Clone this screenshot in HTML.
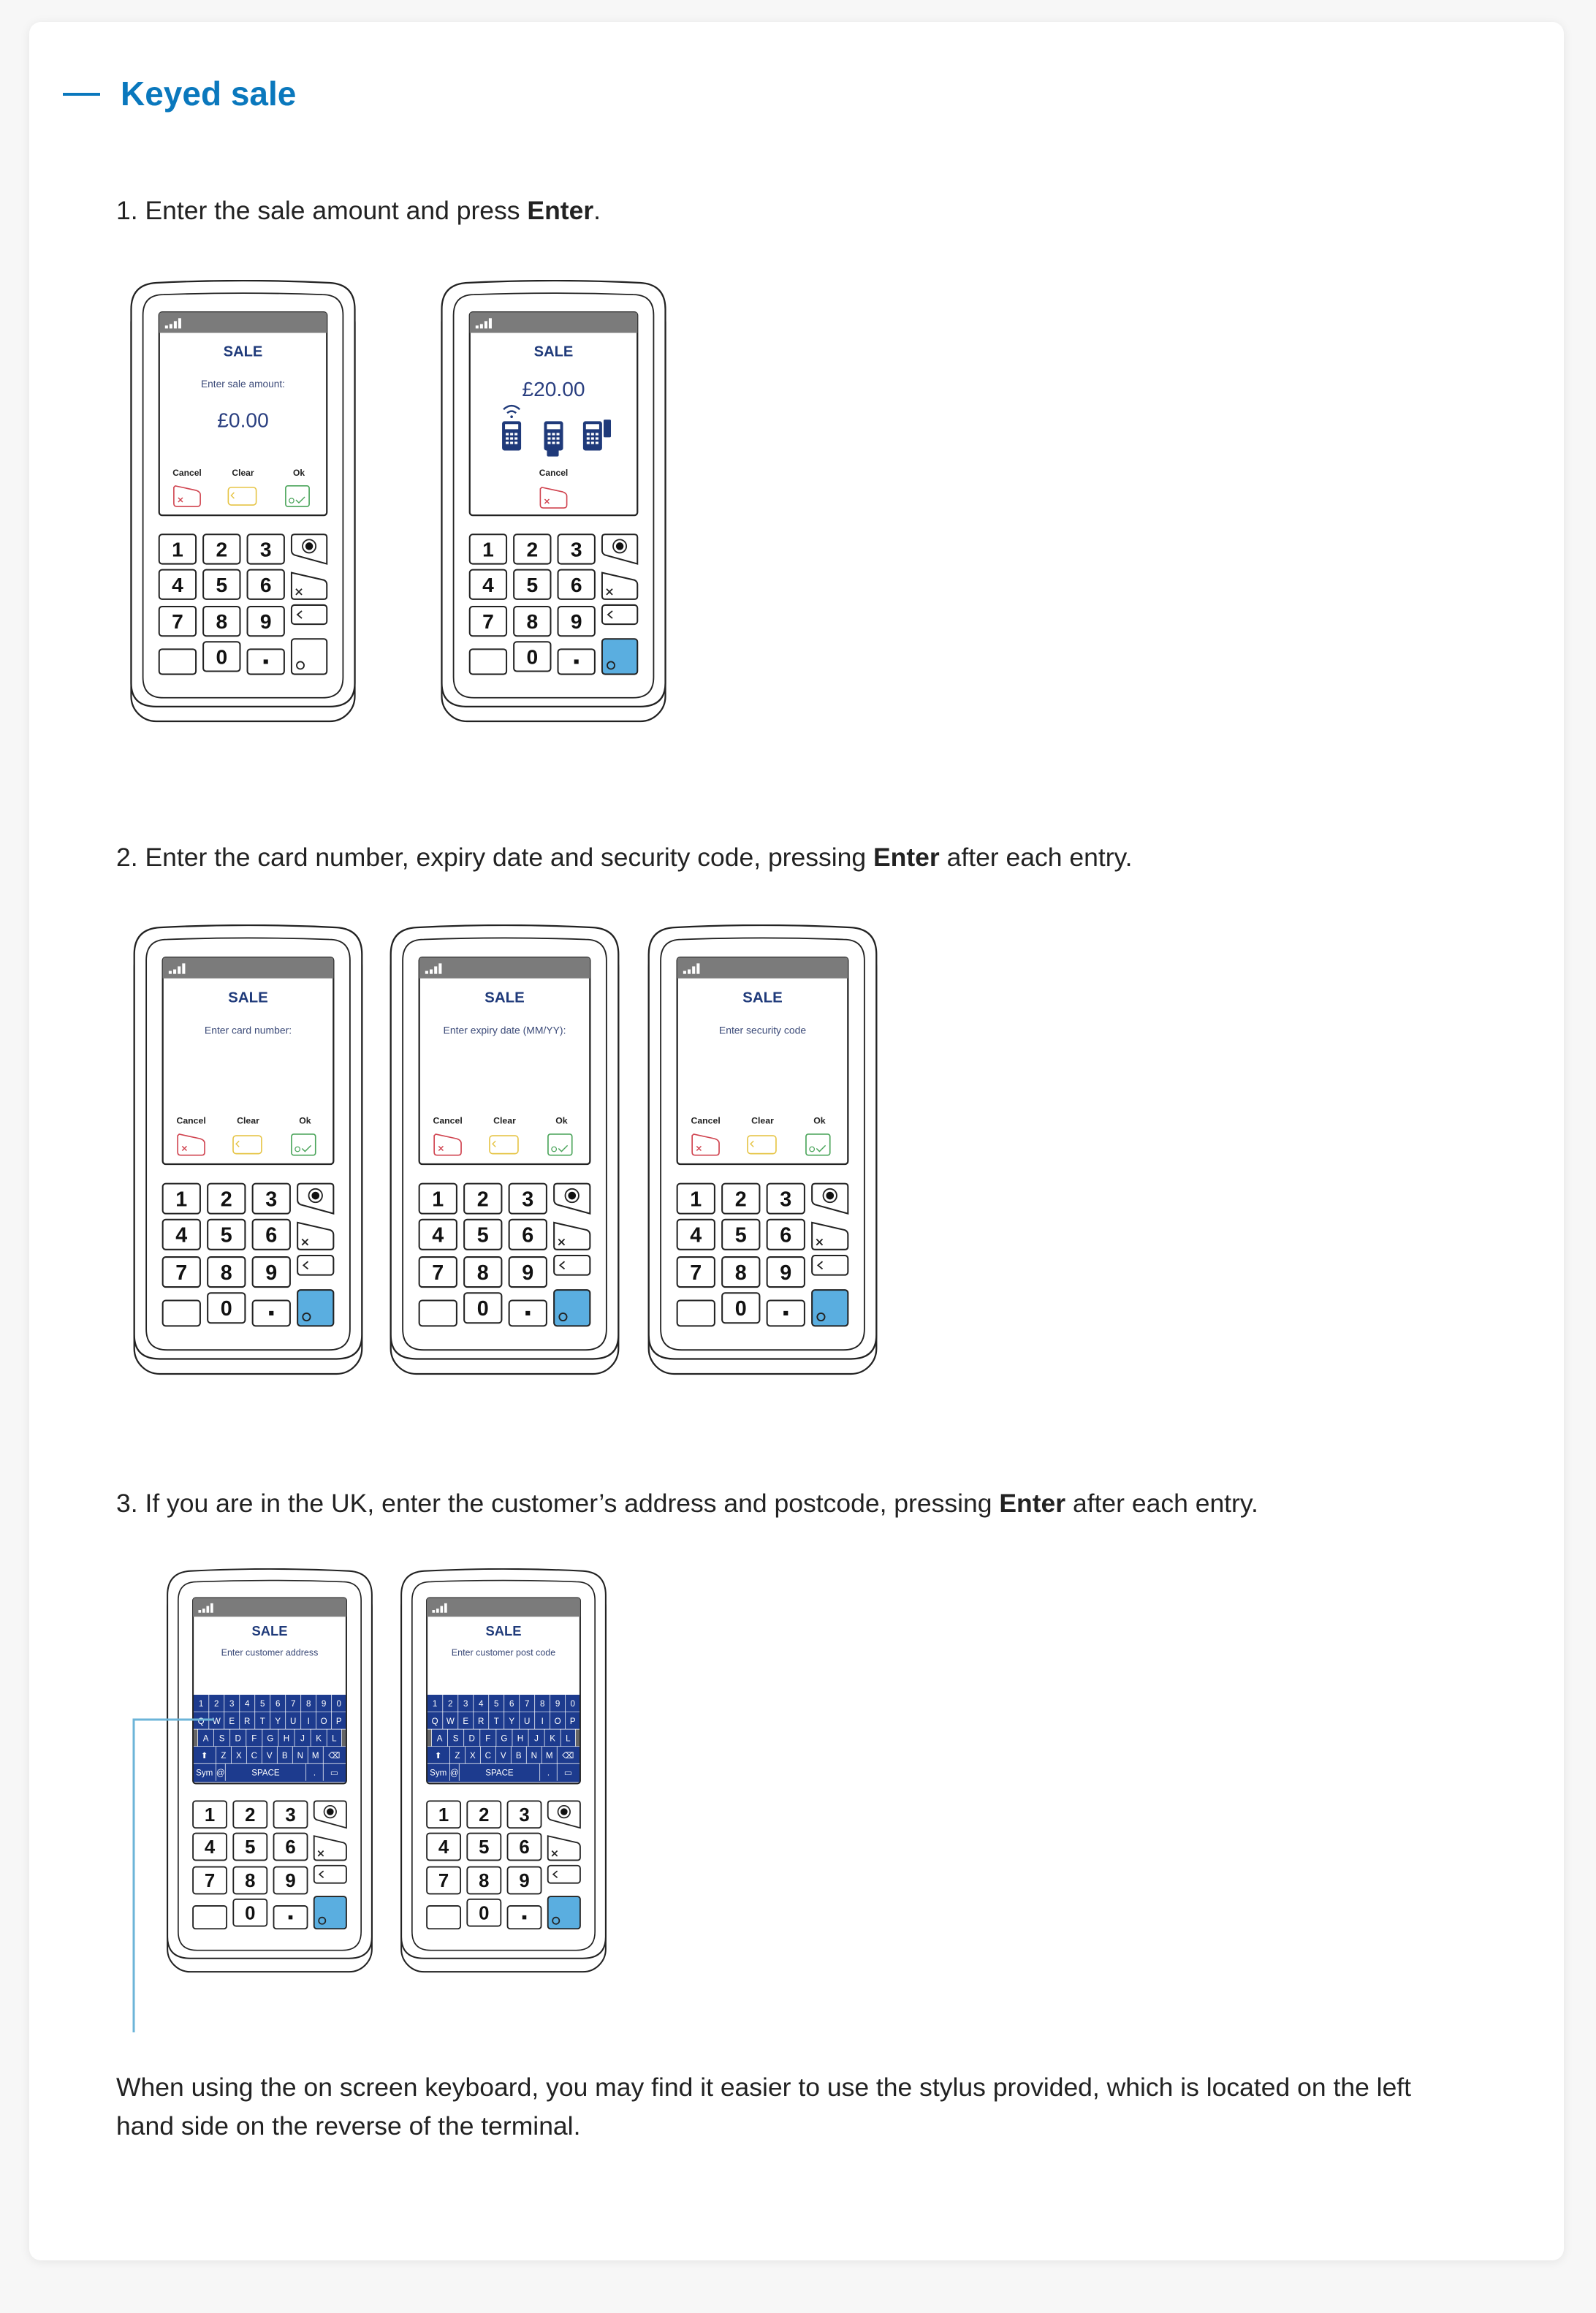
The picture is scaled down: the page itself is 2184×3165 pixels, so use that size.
<!DOCTYPE html>
<html><head><meta charset="utf-8">
<style>
html,body{margin:0;padding:0;}
body{width:2184px;height:3165px;background:#f7f7f7;position:relative;font-family:"Liberation Sans",sans-serif;color:#222;overflow:hidden;}
.card{position:absolute;left:40px;top:30px;width:2100px;height:3063px;background:#fff;border-radius:16px;box-shadow:0 2px 14px rgba(0,0,0,0.08);}
.dash{position:absolute;left:86px;top:127px;width:51px;height:4px;background:#0a78bd;}
h1{position:absolute;left:165px;top:98px;margin:0;font-size:46px;font-weight:bold;color:#0a78bd;line-height:60px;}
.step{position:absolute;left:159px;font-size:35.5px;line-height:44px;margin:0;white-space:nowrap;}
.para{position:absolute;left:159px;top:2830px;width:1800px;font-size:35.5px;line-height:53px;margin:0;}
svg.t{position:absolute;}
.k{font:bold 14px "Liberation Sans",sans-serif;text-anchor:middle;fill:#111;}
.sale{font:bold 10px "Liberation Sans",sans-serif;text-anchor:middle;fill:#1f3a7a;}
.pr{font:6.8px "Liberation Sans",sans-serif;text-anchor:middle;fill:#3b4a78;}
.amt{font:14px "Liberation Sans",sans-serif;text-anchor:middle;fill:#2a3f80;}
.lb{font:bold 6px "Liberation Sans",sans-serif;text-anchor:middle;fill:#222;}
.kb{font:6.3px "Liberation Sans",sans-serif;text-anchor:middle;fill:#fff;}
</style></head><body>
<svg width="0" height="0" style="position:absolute">
<defs>
<symbol id="shell" viewBox="0 0 154 301">
 <rect x="1" y="12" width="152" height="288" rx="17" fill="#fff" stroke="#222" stroke-width="1.1"/>
 <path d="M1,20 Q1,3 18,2 Q77,-1 136,2 Q153,3 153,20 V274 Q153,290 136,290 H18 Q1,290 1,274 Z" fill="#fff" stroke="#222" stroke-width="1.1"/>
 <path d="M9,24 Q9,10 23,10 Q77,8 131,10 Q145,10 145,24 V270 Q145,284 131,284 H23 Q9,284 9,270 Z" fill="none" stroke="#222" stroke-width="0.9"/>
 <g fill="#fff" stroke="#222" stroke-width="1">
  <rect x="20" y="173" width="25" height="20" rx="2"/><rect x="50" y="173" width="25" height="20" rx="2"/><rect x="80" y="173" width="25" height="20" rx="2"/>
  <rect x="20" y="197" width="25" height="20" rx="2"/><rect x="50" y="197" width="25" height="20" rx="2"/><rect x="80" y="197" width="25" height="20" rx="2"/>
  <rect x="20" y="222" width="25" height="20" rx="2"/><rect x="50" y="222" width="25" height="20" rx="2"/><rect x="80" y="222" width="25" height="20" rx="2"/>
  <rect x="20" y="251" width="25" height="17" rx="2"/><rect x="50" y="246" width="25" height="20" rx="2"/><rect x="80" y="251" width="25" height="17" rx="2"/>
  <path d="M112,173 H132 Q134,173 134,175 V193 L112,187 Q110,186 110,184 V175 Q110,173 112,173 Z"/>
  <path d="M110,199 L132,204 Q134,205 134,207 V215 Q134,217 132,217 H112 Q110,217 110,215 Z"/>
  <rect x="110" y="221" width="24" height="13" rx="2"/>
 </g>
 <circle cx="122" cy="181" r="4.5" fill="none" stroke="#222" stroke-width="0.9"/>
 <circle cx="122" cy="181" r="2.6" fill="#111"/>
 <path d="M113,210 l4,4 M117,210 l-4,4" stroke="#222" stroke-width="0.9"/>
 <path d="M117,225 l-3,2.5 l3,2.5" fill="none" stroke="#222" stroke-width="0.9"/>
 <rect x="91" y="258" width="3" height="3" fill="#111"/>
</symbol>
<symbol id="enterw" viewBox="0 0 154 301"><rect x="110" y="244" width="24" height="24" rx="2" fill="#fff" stroke="#222"/><circle cx="116" cy="262" r="2.5" fill="none" stroke="#222" stroke-width="0.9"/></symbol>
<symbol id="enterb" viewBox="0 0 154 301"><rect x="110" y="244" width="24" height="24" rx="2" fill="#5aaee0" stroke="#222"/><circle cx="116" cy="262" r="2.5" fill="none" stroke="#222" stroke-width="0.9"/></symbol>
<symbol id="scr" viewBox="0 0 154 301">
 <rect x="20" y="22" width="114" height="138" rx="2" fill="#fff" stroke="#222" stroke-width="1.1"/>
 <path d="M20,24 Q20,22 22,22 H132 Q134,22 134,24 V36 H20 Z" fill="#7b7b7b"/>
 <g fill="#fff"><rect x="24" y="31" width="2" height="2"/><rect x="27" y="30" width="2" height="3"/><rect x="30" y="28" width="2" height="5"/><rect x="33" y="26" width="2" height="7"/></g>
</symbol>
<symbol id="btn3" viewBox="0 0 154 301">
 <path d="M31,140 L45,143 Q48,144 48,146 V152 Q48,154 46,154 H32 Q30,154 30,152 V141 Z" fill="none" stroke="#d0434f" stroke-width="0.8"/>
 <path d="M33,148 l3,3 M36,148 l-3,3" stroke="#d0434f" stroke-width="0.7"/>
 <rect x="67" y="141" width="19" height="12" rx="2" fill="none" stroke="#e6c445" stroke-width="0.8"/>
 <path d="M71,144.5 l-2,2 l2,2" fill="none" stroke="#e6c445" stroke-width="0.7"/>
 <rect x="106" y="140" width="16" height="14" rx="1.5" fill="none" stroke="#4aa45a" stroke-width="0.8"/>
 <circle cx="110" cy="150" r="1.6" fill="none" stroke="#4aa45a" stroke-width="0.6"/>
 <path d="M113,149.5 l2,2 l4,-4" fill="none" stroke="#4aa45a" stroke-width="0.7"/>
</symbol>
<symbol id="mini" viewBox="0 0 13 20">
 <rect x="0" y="0" width="13" height="20" rx="1.8" fill="#1f3a7a"/>
 <rect x="2" y="2" width="9" height="3.5" fill="#fff"/>
 <g fill="#fff"><rect x="2.5" y="8" width="2" height="1.6"/><rect x="5.5" y="8" width="2" height="1.6"/><rect x="8.5" y="8" width="2" height="1.6"/>
 <rect x="2.5" y="11" width="2" height="1.6"/><rect x="5.5" y="11" width="2" height="1.6"/><rect x="8.5" y="11" width="2" height="1.6"/>
 <rect x="2.5" y="14" width="2" height="1.6"/><rect x="5.5" y="14" width="2" height="1.6"/><rect x="8.5" y="14" width="2" height="1.6"/></g>
</symbol>
</defs></svg>

<div class="card"></div>
<div class="dash"></div>
<h1>Keyed sale</h1>

<p class="step" style="top:266px">1. Enter the sale amount and press <b>Enter</b>.</p>

<svg class="t" style="left:177px;top:383px" width="311" height="606" viewBox="0 0 154 301">
<use href="#shell" width="154" height="301"/><use href="#enterw" width="154" height="301"/><use href="#scr" width="154" height="301"/><use href="#btn3" width="154" height="301"/>
<text class="sale" x="77" y="52">SALE</text>
<text class="pr" x="77" y="73">Enter sale amount:</text>
<text class="amt" x="77" y="100">£0.00</text>
<text class="lb" x="39" y="133">Cancel</text><text class="lb" x="77" y="133">Clear</text><text class="lb" x="115" y="133">Ok</text>
<text class="k" x="32.5" y="188">1</text><text class="k" x="62.5" y="188">2</text><text class="k" x="92.5" y="188">3</text>
<text class="k" x="32.5" y="212">4</text><text class="k" x="62.5" y="212">5</text><text class="k" x="92.5" y="212">6</text>
<text class="k" x="32.5" y="237">7</text><text class="k" x="62.5" y="237">8</text><text class="k" x="92.5" y="237">9</text>
<text class="k" x="62.5" y="261">0</text>
</svg>

<svg class="t" style="left:602px;top:383px" width="311" height="606" viewBox="0 0 154 301">
<use href="#shell" width="154" height="301"/><use href="#enterb" width="154" height="301"/><use href="#scr" width="154" height="301"/>
<text class="sale" x="77" y="52">SALE</text>
<text class="amt" x="77" y="79">£20.00</text>
<path d="M43,88 Q48.5,83 54,88" fill="none" stroke="#1f3a7a" stroke-width="1.2"/><path d="M45.5,90.5 Q48.5,88 51.5,90.5" fill="none" stroke="#1f3a7a" stroke-width="1.2"/><circle cx="48.5" cy="93" r="0.9" fill="#1f3a7a"/>
<use href="#mini" x="42" y="96" width="13" height="20"/>
<use href="#mini" x="70.5" y="96" width="13" height="20"/><rect x="72.5" y="115" width="8" height="5" rx="1" fill="#1f3a7a"/>
<use href="#mini" x="97" y="96" width="13" height="20"/><rect x="111" y="95" width="5" height="12" rx="0.8" fill="#1f3a7a"/>
<text class="lb" x="77" y="133">Cancel</text>
<path d="M69,141 L83,144 Q86,145 86,147 V153 Q86,155 84,155 H70 Q68,155 68,153 V142 Z" fill="none" stroke="#d0434f" stroke-width="0.8"/>
<path d="M71,149 l3,3 M74,149 l-3,3" stroke="#d0434f" stroke-width="0.7"/>
<text class="k" x="32.5" y="188">1</text><text class="k" x="62.5" y="188">2</text><text class="k" x="92.5" y="188">3</text>
<text class="k" x="32.5" y="212">4</text><text class="k" x="62.5" y="212">5</text><text class="k" x="92.5" y="212">6</text>
<text class="k" x="32.5" y="237">7</text><text class="k" x="62.5" y="237">8</text><text class="k" x="92.5" y="237">9</text>
<text class="k" x="62.5" y="261">0</text>
</svg>

<p class="step" style="top:1151px">2. Enter the card number, expiry date and security code, pressing <b>Enter</b> after each entry.</p>

<svg class="t" style="left:181px;top:1265px" width="317" height="617" viewBox="0 0 154 301">
<use href="#shell" width="154" height="301"/><use href="#enterb" width="154" height="301"/><use href="#scr" width="154" height="301"/><use href="#btn3" width="154" height="301"/>
<text class="sale" x="77" y="52">SALE</text>
<text class="pr" x="77" y="73">Enter card number:</text>
<text class="lb" x="39" y="133">Cancel</text><text class="lb" x="77" y="133">Clear</text><text class="lb" x="115" y="133">Ok</text>
<text class="k" x="32.5" y="188">1</text><text class="k" x="62.5" y="188">2</text><text class="k" x="92.5" y="188">3</text>
<text class="k" x="32.5" y="212">4</text><text class="k" x="62.5" y="212">5</text><text class="k" x="92.5" y="212">6</text>
<text class="k" x="32.5" y="237">7</text><text class="k" x="62.5" y="237">8</text><text class="k" x="92.5" y="237">9</text>
<text class="k" x="62.5" y="261">0</text>
</svg>

<svg class="t" style="left:532px;top:1265px" width="317" height="617" viewBox="0 0 154 301">
<use href="#shell" width="154" height="301"/><use href="#enterb" width="154" height="301"/><use href="#scr" width="154" height="301"/><use href="#btn3" width="154" height="301"/>
<text class="sale" x="77" y="52">SALE</text>
<text class="pr" x="77" y="73">Enter expiry date (MM/YY):</text>
<text class="lb" x="39" y="133">Cancel</text><text class="lb" x="77" y="133">Clear</text><text class="lb" x="115" y="133">Ok</text>
<text class="k" x="32.5" y="188">1</text><text class="k" x="62.5" y="188">2</text><text class="k" x="92.5" y="188">3</text>
<text class="k" x="32.5" y="212">4</text><text class="k" x="62.5" y="212">5</text><text class="k" x="92.5" y="212">6</text>
<text class="k" x="32.5" y="237">7</text><text class="k" x="62.5" y="237">8</text><text class="k" x="92.5" y="237">9</text>
<text class="k" x="62.5" y="261">0</text>
</svg>

<svg class="t" style="left:885px;top:1265px" width="317" height="617" viewBox="0 0 154 301">
<use href="#shell" width="154" height="301"/><use href="#enterb" width="154" height="301"/><use href="#scr" width="154" height="301"/><use href="#btn3" width="154" height="301"/>
<text class="sale" x="77" y="52">SALE</text>
<text class="pr" x="77" y="73">Enter security code</text>
<text class="lb" x="39" y="133">Cancel</text><text class="lb" x="77" y="133">Clear</text><text class="lb" x="115" y="133">Ok</text>
<text class="k" x="32.5" y="188">1</text><text class="k" x="62.5" y="188">2</text><text class="k" x="92.5" y="188">3</text>
<text class="k" x="32.5" y="212">4</text><text class="k" x="62.5" y="212">5</text><text class="k" x="92.5" y="212">6</text>
<text class="k" x="32.5" y="237">7</text><text class="k" x="62.5" y="237">8</text><text class="k" x="92.5" y="237">9</text>
<text class="k" x="62.5" y="261">0</text>
</svg>

<p class="step" style="top:2035px">3. If you are in the UK, enter the customer’s address and postcode, pressing <b>Enter</b> after each entry.</p>

<svg class="t" style="left:226px;top:2146px" width="286" height="554" viewBox="0 0 154 301">
<use href="#shell" width="154" height="301"/><use href="#enterb" width="154" height="301"/><use href="#scr" width="154" height="301"/>
<text class="sale" x="77" y="50">SALE</text>
<text class="pr" x="77" y="65">Enter customer address</text>
<g>
<rect x="20.5" y="94" width="113" height="65" fill="#1d3b8e"/>
<rect x="20.5" y="119.6" width="3" height="12.8" fill="#666"/><rect x="130.5" y="119.6" width="3" height="12.8" fill="#666"/>
<g stroke="#fff" stroke-width="0.4" fill="none">
<path d="M20.5,106.8 H133.5 M20.5,119.6 H133.5 M20.5,132.4 H133.5 M20.5,145.2 H133.5"/>
<path d="M31.8,94 V119.6 M43.2,94 V119.6 M54.6,94 V119.6 M66,94 V119.6 M77.4,94 V119.6 M88.8,94 V119.6 M100.2,94 V119.6 M111.6,94 V119.6 M123,94 V119.6"/>
<path d="M23.5,119.6 V132.4 M35.5,119.6 V132.4 M47.5,119.6 V132.4 M59.5,119.6 V132.4 M71.5,119.6 V132.4 M83.5,119.6 V132.4 M95.5,119.6 V132.4 M107.5,119.6 V132.4 M119.5,119.6 V132.4 M130.5,119.6 V132.4"/>
<path d="M37,132.4 V158 M48.4,132.4 V145.2 M59.8,132.4 V145.2 M71.2,132.4 V145.2 M82.6,132.4 V145.2 M94,132.4 V145.2 M105.4,132.4 V145.2 M116.8,132.4 V158 M44,145.2 V158 M104,145.2 V158"/>
</g>
<g class="kb">
<text x="26" y="102.8">1</text><text x="37.5" y="102.8">2</text><text x="48.9" y="102.8">3</text><text x="60.3" y="102.8">4</text><text x="71.7" y="102.8">5</text><text x="83.1" y="102.8">6</text><text x="94.5" y="102.8">7</text><text x="105.9" y="102.8">8</text><text x="117.3" y="102.8">9</text><text x="128.5" y="102.8">0</text>
<text x="26" y="115.6">Q</text><text x="37.5" y="115.6">W</text><text x="48.9" y="115.6">E</text><text x="60.3" y="115.6">R</text><text x="71.7" y="115.6">T</text><text x="83.1" y="115.6">Y</text><text x="94.5" y="115.6">U</text><text x="105.9" y="115.6">I</text><text x="117.3" y="115.6">O</text><text x="128.5" y="115.6">P</text>
<text x="29.5" y="128.4">A</text><text x="41.5" y="128.4">S</text><text x="53.5" y="128.4">D</text><text x="65.5" y="128.4">F</text><text x="77.5" y="128.4">G</text><text x="89.5" y="128.4">H</text><text x="101.5" y="128.4">J</text><text x="113.5" y="128.4">K</text><text x="125" y="128.4">L</text>
<text x="28.5" y="141.2">⬆</text><text x="42.7" y="141.2">Z</text><text x="54.1" y="141.2">X</text><text x="65.5" y="141.2">C</text><text x="76.9" y="141.2">V</text><text x="88.3" y="141.2">B</text><text x="99.7" y="141.2">N</text><text x="111.1" y="141.2">M</text><text x="125" y="141.2">⌫</text>
<text x="28.5" y="154">Sym</text><text x="40.5" y="154">@</text><text x="74" y="154">SPACE</text><text x="110.4" y="154">.</text><text x="125" y="154">▭</text>
</g>
</g>
<text class="k" x="32.5" y="188">1</text><text class="k" x="62.5" y="188">2</text><text class="k" x="92.5" y="188">3</text>
<text class="k" x="32.5" y="212">4</text><text class="k" x="62.5" y="212">5</text><text class="k" x="92.5" y="212">6</text>
<text class="k" x="32.5" y="237">7</text><text class="k" x="62.5" y="237">8</text><text class="k" x="92.5" y="237">9</text>
<text class="k" x="62.5" y="261">0</text>
</svg>

<svg class="t" style="left:546px;top:2146px" width="286" height="554" viewBox="0 0 154 301">
<use href="#shell" width="154" height="301"/><use href="#enterb" width="154" height="301"/><use href="#scr" width="154" height="301"/>
<text class="sale" x="77" y="50">SALE</text>
<text class="pr" x="77" y="65">Enter customer post code</text>
<g>
<rect x="20.5" y="94" width="113" height="65" fill="#1d3b8e"/>
<rect x="20.5" y="119.6" width="3" height="12.8" fill="#666"/><rect x="130.5" y="119.6" width="3" height="12.8" fill="#666"/>
<g stroke="#fff" stroke-width="0.4" fill="none">
<path d="M20.5,106.8 H133.5 M20.5,119.6 H133.5 M20.5,132.4 H133.5 M20.5,145.2 H133.5"/>
<path d="M31.8,94 V119.6 M43.2,94 V119.6 M54.6,94 V119.6 M66,94 V119.6 M77.4,94 V119.6 M88.8,94 V119.6 M100.2,94 V119.6 M111.6,94 V119.6 M123,94 V119.6"/>
<path d="M23.5,119.6 V132.4 M35.5,119.6 V132.4 M47.5,119.6 V132.4 M59.5,119.6 V132.4 M71.5,119.6 V132.4 M83.5,119.6 V132.4 M95.5,119.6 V132.4 M107.5,119.6 V132.4 M119.5,119.6 V132.4 M130.5,119.6 V132.4"/>
<path d="M37,132.4 V158 M48.4,132.4 V145.2 M59.8,132.4 V145.2 M71.2,132.4 V145.2 M82.6,132.4 V145.2 M94,132.4 V145.2 M105.4,132.4 V145.2 M116.8,132.4 V158 M44,145.2 V158 M104,145.2 V158"/>
</g>
<g class="kb">
<text x="26" y="102.8">1</text><text x="37.5" y="102.8">2</text><text x="48.9" y="102.8">3</text><text x="60.3" y="102.8">4</text><text x="71.7" y="102.8">5</text><text x="83.1" y="102.8">6</text><text x="94.5" y="102.8">7</text><text x="105.9" y="102.8">8</text><text x="117.3" y="102.8">9</text><text x="128.5" y="102.8">0</text>
<text x="26" y="115.6">Q</text><text x="37.5" y="115.6">W</text><text x="48.9" y="115.6">E</text><text x="60.3" y="115.6">R</text><text x="71.7" y="115.6">T</text><text x="83.1" y="115.6">Y</text><text x="94.5" y="115.6">U</text><text x="105.9" y="115.6">I</text><text x="117.3" y="115.6">O</text><text x="128.5" y="115.6">P</text>
<text x="29.5" y="128.4">A</text><text x="41.5" y="128.4">S</text><text x="53.5" y="128.4">D</text><text x="65.5" y="128.4">F</text><text x="77.5" y="128.4">G</text><text x="89.5" y="128.4">H</text><text x="101.5" y="128.4">J</text><text x="113.5" y="128.4">K</text><text x="125" y="128.4">L</text>
<text x="28.5" y="141.2">⬆</text><text x="42.7" y="141.2">Z</text><text x="54.1" y="141.2">X</text><text x="65.5" y="141.2">C</text><text x="76.9" y="141.2">V</text><text x="88.3" y="141.2">B</text><text x="99.7" y="141.2">N</text><text x="111.1" y="141.2">M</text><text x="125" y="141.2">⌫</text>
<text x="28.5" y="154">Sym</text><text x="40.5" y="154">@</text><text x="74" y="154">SPACE</text><text x="110.4" y="154">.</text><text x="125" y="154">▭</text>
</g>
</g>
<text class="k" x="32.5" y="188">1</text><text class="k" x="62.5" y="188">2</text><text class="k" x="92.5" y="188">3</text>
<text class="k" x="32.5" y="212">4</text><text class="k" x="62.5" y="212">5</text><text class="k" x="92.5" y="212">6</text>
<text class="k" x="32.5" y="237">7</text><text class="k" x="62.5" y="237">8</text><text class="k" x="92.5" y="237">9</text>
<text class="k" x="62.5" y="261">0</text>
</svg>

<svg class="t" style="left:0;top:0" width="2184" height="3165" viewBox="0 0 2184 3165" pointer-events="none">
<path d="M183,2781 V2353 H293" fill="none" stroke="#6cb4d8" stroke-width="3"/>
</svg>

<p class="para">When using the on screen keyboard, you may find it easier to use the stylus provided, which is located on the left hand side on the reverse of the terminal.</p>
</body></html>
